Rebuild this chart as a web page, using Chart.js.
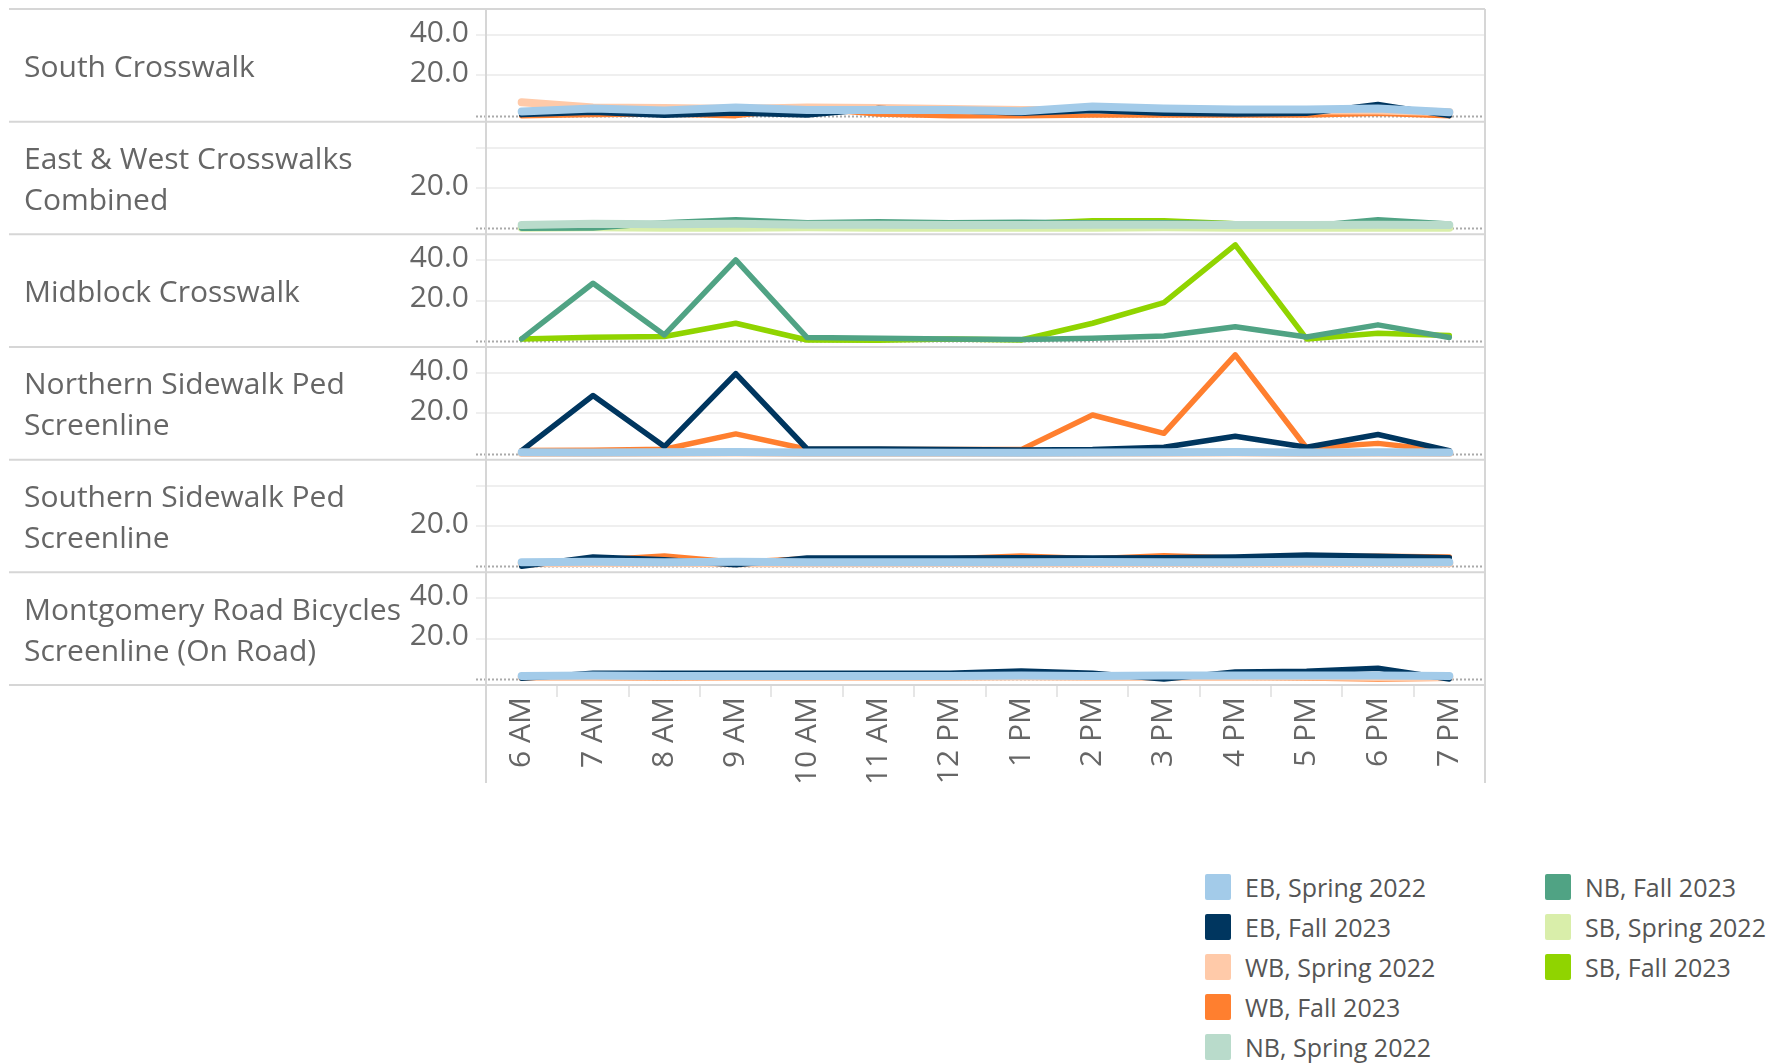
<!DOCTYPE html>
<html lang="en">
<head>
<meta charset="utf-8">
<script src="https://cdn.jsdelivr.net/npm/chart.js@4.4.1/dist/chart.umd.min.js"></script>
<style>
  body { margin: 0; background: #fff; font-family: "Open Sans", sans-serif; }
  #wrap { position: absolute; left: 0; top: 0; width: 1779px; height: 790px; }
  #legend { position: absolute; left: 0; top: 0; }
  .item { position: absolute; display: flex; align-items: center; font-size: 25px; color: #555; white-space: nowrap; height: 40px; }
  .sw { width: 26px; height: 26px; border-radius: 2px; margin-right: 14px; }
</style>
</head>
<body>
<div id="wrap"><canvas id="chart" width="1779" height="790"></canvas></div>
<div id="legend"></div>
<script>
// x categories
const hours = ['6 AM', '7 AM', '8 AM', '9 AM', '10 AM', '11 AM', '12 PM', '1 PM', '2 PM', '3 PM', '4 PM', '5 PM', '6 PM', '7 PM'];

// legend / series
const seriesNames = ['EB, Spring 2022', 'EB, Fall 2023', 'WB, Spring 2022', 'WB, Fall 2023',
                     'NB, Spring 2022', 'NB, Fall 2023', 'SB, Spring 2022', 'SB, Fall 2023'];
const seriesColors = ['#a3cbe9', '#00365f', '#ffcaa9', '#ff7f2f', '#b9dbcb', '#50a384', '#d9eeaa', '#90d400'];

// y axis ticks
const yTicks = [0, 20, 40];

// South Crosswalk
const scEbSpring = [2.0, 3.6, 2.5, 4.1, 2.8, 2.8, 2.8, 2.2, 4.5, 3.5, 3.0, 3.0, 3.5, 1.7];
const scEbFall   = [0.5, 1.7, 0.2, 1.3, 0.3, 3.6, 2.5, 1.2, 2.5, 1.2, 0.8, 1.2, 5.5, 0.0];
const scWbSpring = [6.6, 4.1, 3.8, 3.3, 4.1, 3.8, 3.3, 2.8, 2.8, 2.5, 2.8, 2.5, 2.5, 1.7];
const scWbFall   = [0.0, 0.5, 0.8, 0.0, 3.8, 0.8, 0.0, 0.0, 0.3, 0.3, 0.3, 0.3, 1.2, 0.0];

// East & West Crosswalks Combined
const ewNbSpring = [1.6, 2.2, 2.0, 2.2, 1.8, 1.8, 1.6, 1.6, 1.8, 1.8, 1.6, 1.6, 1.8, 1.6];
const ewNbFall   = [0.0, 0.2, 2.7, 4.3, 2.7, 3.2, 2.7, 3.0, 2.7, 2.7, 2.2, 1.0, 4.3, 2.2];
const ewSbSpring = [0.3, 0.5, 0.3, 0.3, 0.5, 0.3, 0.3, 0.3, 0.3, 0.5, 0.3, 0.3, 0.3, 0.3];
const ewSbFall   = [0.2, 0.0, 0.0, 1.0, 0.2, 0.2, 1.0, 2.2, 3.8, 3.8, 2.2, 0.2, 1.0, 1.0];

// Midblock Crosswalk
const mbNbFall = [1.0, 28.7, 3.0, 40.3, 1.7, 1.3, 1.0, 0.7, 1.3, 2.5, 7.1, 2.0, 8.0, 1.7];
const mbSbFall = [1.0, 1.8, 2.2, 8.8, 0.5, 0.3, 1.0, 0.5, 8.8, 19.1, 47.8, 1.0, 3.8, 2.7];

// Northern Sidewalk Ped Screenline
const nsEbSpring = [0.7, 0.6, 0.7, 0.8, 0.6, 0.6, 0.5, 0.5, 0.6, 0.7, 0.8, 0.6, 0.7, 0.6];
const nsEbFall   = [1.5, 28.9, 3.5, 39.8, 2.3, 2.3, 2.0, 1.8, 2.0, 3.2, 8.6, 3.2, 9.5, 1.5];
const nsWbSpring = [0.3, 0.3, 0.4, 0.5, 0.3, 0.3, 0.3, 0.3, 0.4, 0.4, 0.5, 0.3, 0.4, 0.3];
const nsWbFall   = [1.5, 1.7, 2.2, 9.8, 2.2, 2.0, 2.0, 2.0, 19.2, 10.1, 49.1, 2.8, 5.1, 1.2];

// Southern Sidewalk Ped Screenline
const ssEbSpring = [2.0, 2.2, 2.0, 2.2, 2.0, 2.0, 2.0, 2.0, 2.1, 2.0, 2.0, 2.2, 2.0, 2.0];
const ssEbFall   = [0.0, 4.6, 3.3, 0.8, 4.1, 4.1, 4.1, 4.3, 4.1, 4.3, 4.6, 5.6, 5.0, 4.3];
const ssWbSpring = [1.5, 1.6, 1.8, 1.5, 1.5, 1.5, 1.6, 1.5, 1.5, 1.6, 1.5, 1.5, 1.6, 1.5];
const ssWbFall   = [0.5, 3.0, 5.1, 2.0, 3.8, 3.8, 3.8, 5.1, 3.8, 5.3, 4.1, 4.6, 5.0, 4.6];

// Montgomery Road Bicycles Screenline (On Road)
const mrEbSpring = [1.5, 1.7, 1.5, 1.5, 1.5, 1.5, 1.5, 1.7, 1.5, 1.7, 1.7, 1.7, 1.7, 1.5];
const mrEbFall   = [0.3, 2.8, 2.8, 2.8, 2.8, 2.8, 2.8, 4.0, 2.8, 0.0, 3.5, 3.8, 5.3, 0.0];
const mrWbSpring = [1.0, 1.0, 1.2, 1.0, 1.0, 1.0, 1.0, 1.2, 1.0, 1.0, 1.0, 1.2, 1.0, 1.0];
const mrWbFall   = [0.5, 0.5, 0.5, 0.5, 0.5, 0.8, 0.8, 2.8, 1.0, 1.0, 0.8, 0.5, 0.0, 0.3];

// panels top to bottom; series keyed by legend index
const panels = [
  { label: ['South Crosswalk'], hideTop: false, series: { 0: scEbSpring, 1: scEbFall, 2: scWbSpring, 3: scWbFall } },
  { label: ['East & West Crosswalks', 'Combined'], hideTop: true, series: { 4: ewNbSpring, 5: ewNbFall, 6: ewSbSpring, 7: ewSbFall } },
  { label: ['Midblock Crosswalk'], hideTop: false, series: { 5: mbNbFall, 7: mbSbFall } },
  { label: ['Northern Sidewalk Ped', 'Screenline'], hideTop: false, series: { 0: nsEbSpring, 1: nsEbFall, 2: nsWbSpring, 3: nsWbFall } },
  { label: ['Southern Sidewalk Ped', 'Screenline'], hideTop: true, series: { 0: ssEbSpring, 1: ssEbFall, 2: ssWbSpring, 3: ssWbFall } },
  { label: ['Montgomery Road Bicycles', 'Screenline (On Road)'], hideTop: false, series: { 0: mrEbSpring, 1: mrEbFall, 2: mrWbSpring, 3: mrWbFall } }
];

const FONT = '"Open Sans", sans-serif';
const TEXT = '#666';

// build datasets, legend order first so spring lines sit on top
const datasets = [];
panels.forEach((p, pi) => {
  Object.keys(p.series).forEach(k => {
    const i = +k;
    datasets.push({
      label: seriesNames[i],
      data: p.series[k],
      yAxisID: 'p' + pi,
      borderColor: seriesColors[i],
      backgroundColor: seriesColors[i],
      borderWidth: i % 2 === 0 ? 8 : 5.5,
      borderCapStyle: 'round',
      borderJoinStyle: 'round',
      pointRadius: 0,
      tension: 0
    });
  });
});

// y scales - stacked axes get placed with the last defined on top, so go bottom-up
const scales = {
  x: {
    type: 'category',
    offset: true,
    grid: { offset: true, drawOnChartArea: false, tickLength: 12, color: '#e6e6e6', lineWidth: 2 },
    border: { display: false },
    ticks: { minRotation: 90, maxRotation: 90, padding: 0, autoSkip: false, color: TEXT, font: { family: FONT, size: 30 } },
    afterFit: a => { a.height = 105; }
  }
};
for (let pi = panels.length - 1; pi >= 0; pi--) {
  const hideTop = panels[pi].hideTop;
  scales['p' + pi] = {
    type: 'linear',
    position: 'left',
    stack: 'rows',
    stackWeight: 1,
    min: -3,
    max: 53,
    afterBuildTicks: a => { a.ticks = yTicks.map(v => ({ value: v })); },
    afterFit: a => { a.width = 486; a.paddingTop = 0; a.paddingBottom = 0; },
    grid: {
      color: c => (c.tick && c.tick.value === 0) ? 'rgba(0,0,0,0)' : '#efefef',
      lineWidth: 2,
      tickLength: 10
    },
    border: { display: false },
    ticks: {
      padding: 7,
      labelOffset: -2,
      autoSkip: false,
      color: TEXT,
      font: { family: FONT, size: 30 },
      callback: v => (v === 0 || (hideTop && v === 40)) ? '' : v.toFixed(1)
    }
  };
}

// frame, zero lines and row headers (Tableau style)
const framePlugin = {
  id: 'frame',
  beforeDatasetsDraw(chart) {
    const ctx = chart.ctx;
    const area = chart.chartArea;
    const bottom = chart.scales.x.bottom - 7;
    ctx.save();

    // dotted zero lines
    ctx.strokeStyle = '#aaaaaa';
    ctx.lineWidth = 2;
    ctx.setLineDash([2, 2]);
    panels.forEach((p, pi) => {
      const y = Math.round(chart.scales['p' + pi].getPixelForValue(0)) + 0.5;
      ctx.beginPath();
      ctx.moveTo(area.left - 10, y);
      ctx.lineTo(area.right, y);
      ctx.stroke();
    });
    ctx.setLineDash([]);

    // row separators
    ctx.strokeStyle = '#d6d6d6';
    ctx.lineWidth = 2;
    const edges = panels.map((p, pi) => chart.scales['p' + pi].top);
    edges.push(chart.scales['p' + (panels.length - 1)].bottom);
    edges.forEach(y => {
      ctx.beginPath();
      ctx.moveTo(9, y);
      ctx.lineTo(area.right, y);
      ctx.stroke();
    });
    [area.left, area.right].forEach(x => {
      ctx.beginPath();
      ctx.moveTo(x, area.top);
      ctx.lineTo(x, bottom);
      ctx.stroke();
    });

    // row headers
    ctx.fillStyle = TEXT;
    ctx.font = '30px ' + FONT;
    ctx.textAlign = 'left';
    ctx.textBaseline = 'middle';
    panels.forEach((p, pi) => {
      const s = chart.scales['p' + pi];
      const mid = (s.top + s.bottom) / 2 + 3;
      const lh = 41;
      p.label.forEach((line, li) => {
        ctx.fillText(line, 24, mid + (li - (p.label.length - 1) / 2) * lh);
      });
    });
    ctx.restore();
  }
};

new Chart(document.getElementById('chart'), {
  type: 'line',
  data: { labels: hours, datasets: datasets },
  options: {
    responsive: false,
    animation: false,
    layout: { padding: { top: 9, right: 294, bottom: 0, left: 0 } },
    scales: scales,
    plugins: { legend: { display: false }, tooltip: { enabled: false } }
  },
  plugins: [framePlugin]
});

// legend, two columns like the original
const legend = document.getElementById('legend');
seriesNames.forEach((name, i) => {
  const col = i < 5 ? 0 : 1;
  const row = i < 5 ? i : i - 5;
  const el = document.createElement('div');
  el.className = 'item';
  el.style.left = (col ? 1545 : 1205) + 'px';
  el.style.top = (867 + row * 40) + 'px';
  el.innerHTML = '<div class="sw" style="background:' + seriesColors[i] + '"></div>' + name;
  legend.appendChild(el);
});
</script>
</body>
</html>
